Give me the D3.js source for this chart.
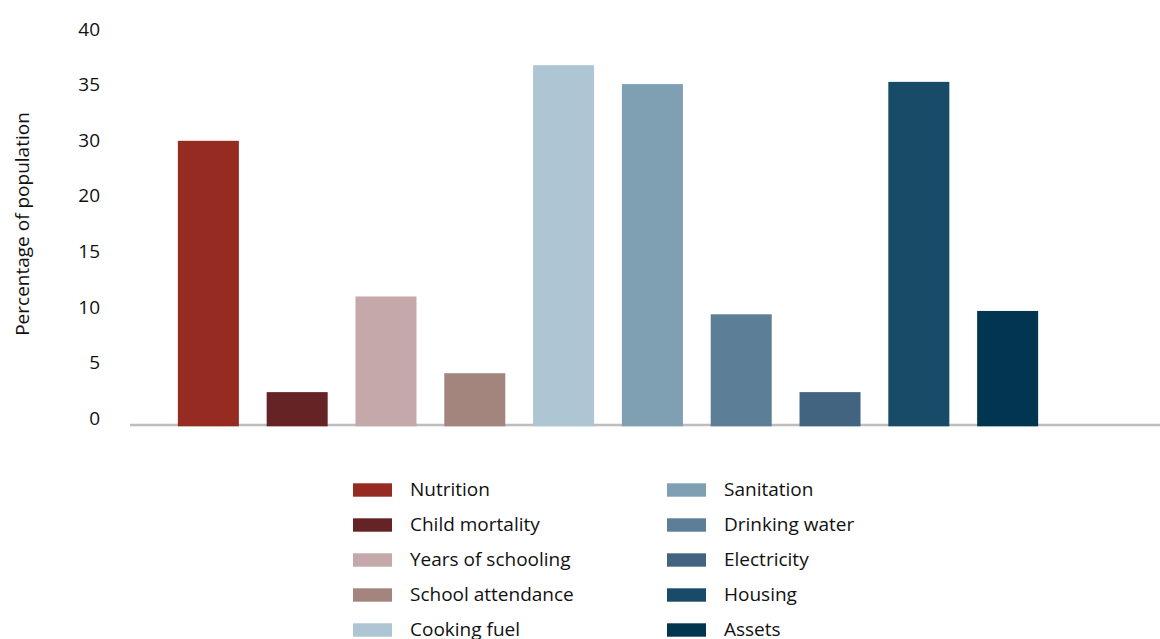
<!DOCTYPE html>
<html>
<head>
<meta charset="utf-8">
<script src="https://cdn.jsdelivr.net/npm/d3@7"></script>
<style>
  html, body { margin: 0; padding: 0; background: #fff; }
  svg { display: block; font-family: "Open Sans", "Noto Sans", sans-serif; }
</style>
</head>
<body>
<svg id="chart" width="1160" height="639"></svg>
<script>
// ---- data ----
const categories = ["Nutrition", "Child mortality", "Years of schooling", "School attendance", "Cooking fuel",
                    "Sanitation", "Drinking water", "Electricity", "Housing", "Assets"];
const values = [29.8, 2.3, 10.9, 4.0, 36.7, 35.0, 9.3, 2.3, 35.2, 9.6];
const colors = ["#952b21", "#652325", "#c5a9aa", "#a4857e", "#aec5d3",
                "#7f9fb3", "#5c7f97", "#426480", "#184b68", "#023550"];
// tick labels exactly as printed on the original axis (note: no "25")
const tickLabels = [0, 5, 10, 15, 20, 30, 35, 40];
const yTitle = "Percentage of population";

// ---- layout ----
const svg = d3.select("#chart");
const fontSize = 19;
const textColor = "#111";
const tickStep = 55.6;
const y0 = 417.7;           // position of the "0" label
const axisY = 425;          // horizontal axis line
const barBottom = 426.3;

const y = d3.scaleLinear()
  .domain(tickLabels)
  .range(tickLabels.map((d, i) => y0 - i * tickStep));

const x = d3.scaleBand()
  .domain(categories)
  .range([164, 1052])
  .paddingInner(0.313)
  .paddingOuter(0.156);

// y axis labels (no domain line, no ticks)
const yAxis = d3.axisLeft(y).tickValues(tickLabels).tickSize(0).tickPadding(0).tickFormat(d => d);
const gy = svg.append("g").attr("transform", "translate(100,0)").call(yAxis);
gy.select(".domain").remove();
gy.selectAll("text")
  .attr("font-size", fontSize)
  .attr("font-family", '"Open Sans", sans-serif')
  .attr("fill", textColor)
  .attr("dy", "0.35em");

// y title
svg.append("text")
  .attr("transform", `translate(29,224) rotate(-90)`)
  .attr("text-anchor", "middle")
  .attr("font-size", fontSize)
  .attr("fill", textColor)
  .text(yTitle);

// axis line
svg.append("line")
  .attr("x1", 130).attr("x2", 1160)
  .attr("y1", axisY).attr("y2", axisY)
  .attr("stroke", "#bdbdbd").attr("stroke-width", 2.5);

// bars
svg.append("g").selectAll("rect")
  .data(categories)
  .join("rect")
  .attr("x", d => x(d))
  .attr("width", x.bandwidth())
  .attr("y", (d, i) => y(values[i]))
  .attr("height", (d, i) => barBottom - y(values[i]))
  .attr("fill", (d, i) => colors[i]);

// legend
const legend = svg.append("g");
const colX = [353, 667];
const rowY0 = 490, rowStep = 35;
categories.forEach((c, i) => {
  const col = Math.floor(i / 5), row = i % 5;
  const g = legend.append("g").attr("transform", `translate(${colX[col]},${rowY0 + row * rowStep})`);
  g.append("rect").attr("x", 0).attr("y", -6.7).attr("width", 39).attr("height", 13.4).attr("fill", colors[i]);
  g.append("text").attr("x", 57).attr("y", 0).attr("dy", "0.33em")
    .attr("font-size", fontSize).attr("fill", textColor).text(c);
});
</script>
</body>
</html>
